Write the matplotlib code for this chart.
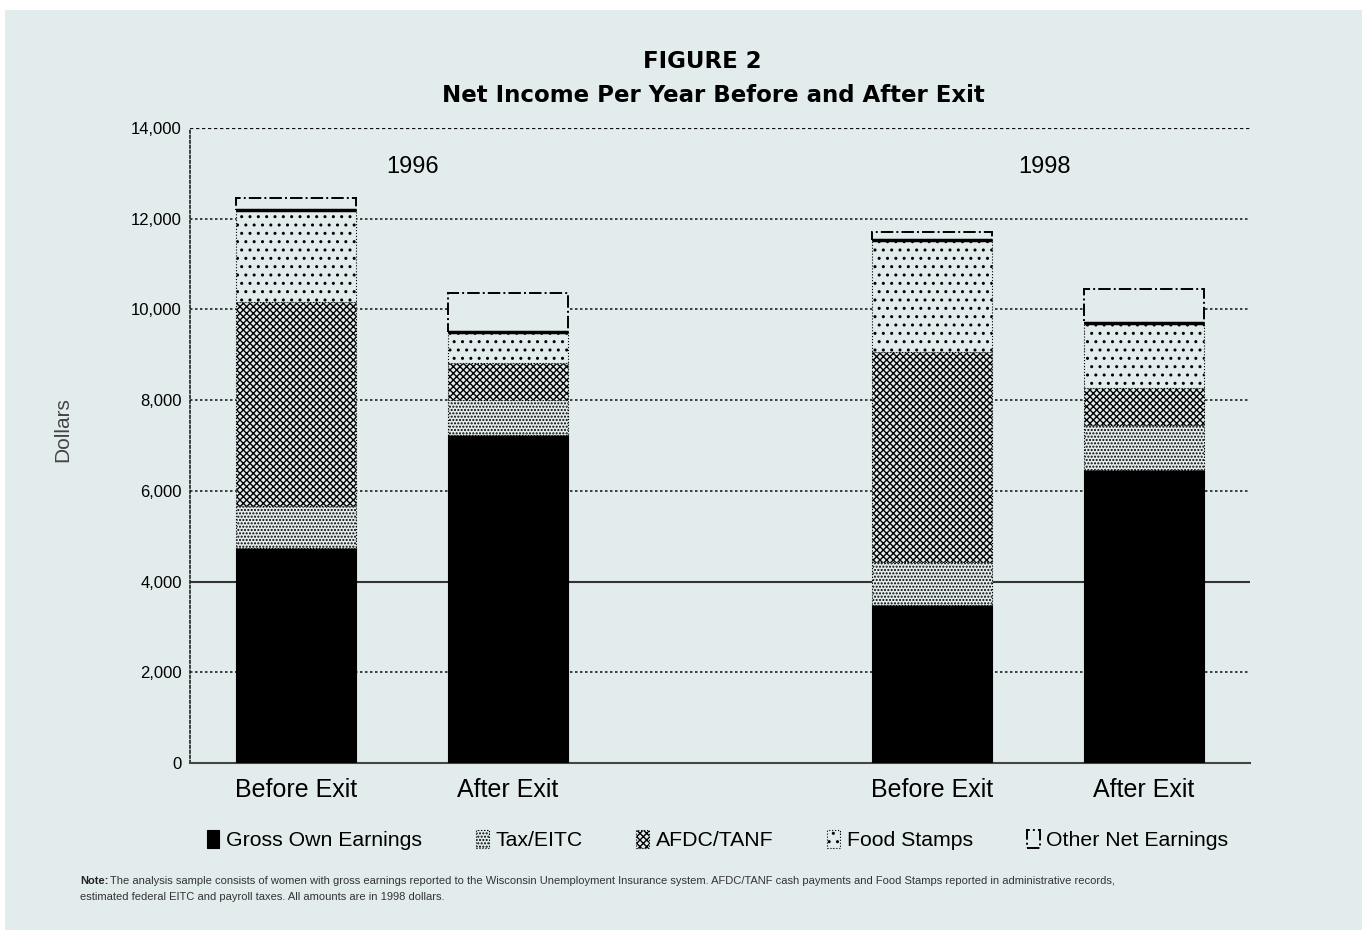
import numpy as np
import matplotlib.pyplot as plt
from matplotlib.patches import Rectangle

# ---- datos ----
anios = ['1996', '1998']
etiquetas = ['Before Exit', 'After Exit', 'Before Exit', 'After Exit']
componentes = ['Gross Own Earnings', 'Tax/EITC', 'AFDC/TANF', 'Food Stamps', 'Other Net Earnings']

gross = [4740, 7230, 3480, 6460]
tax = [920, 775, 950, 990]
afdc = [4500, 815, 4630, 820]
food = [2030, 685, 2470, 1430]
other = [265, 860, 180, 750]

FONDO = '#e3ecec'
plt.rcParams['font.family'] = ['Liberation Sans', 'DejaVu Sans']
plt.rcParams['hatch.color'] = 'black'
plt.rcParams['hatch.linewidth'] = 1.0

fig = plt.figure(figsize=(13.69, 9.35), dpi=100, facecolor='white')
fig.patches.append(Rectangle((5 / 1369, 5 / 935), 1357 / 1369, 920 / 935,
                             transform=fig.transFigure, fc=FONDO, ec='none', zorder=-5))
ax = fig.add_axes([190 / 1369, 1 - 763 / 935, 1060 / 1369, 635 / 935])
ax.set_facecolor(FONDO)

pos = np.array([0, 1, 3, 4])
ancho = 0.57

# rejilla
for v in [2000, 6000, 8000, 10000, 12000]:
    ax.axhline(v, color='#222222', lw=1.2, ls=(0, (1.5, 1.5)), zorder=1)
ax.axhline(14000, color='#111111', lw=1.6, ls=(0, (1.5, 1.2)), zorder=1)
ax.axhline(4000, color='#333333', lw=1.5, zorder=1)

base = np.zeros(4)
estilos = [
    dict(color='black', edgecolor='black', hatch=None, lw=0.8, ls='-'),
    dict(color=FONDO, edgecolor='black', hatch='.....', lw=0.8, ls=':'),
    dict(color=FONDO, edgecolor='black', hatch='xxxxx', lw=0.8, ls=':'),
    dict(color=FONDO, edgecolor='black', hatch='..', lw=0.8, ls=':'),
    dict(color=FONDO, edgecolor='black', hatch=None, lw=1.4, ls='-.'),
]
barras = []
for nombre, vals, st in zip(componentes, [gross, tax, afdc, food, other], estilos):
    b = ax.bar(pos, vals, ancho, bottom=base, color=st['color'], edgecolor=st['edgecolor'],
               hatch=st['hatch'], linewidth=st['lw'], linestyle=st['ls'], label=nombre, zorder=3)
    barras.append(b)
    base = base + np.array(vals)
    if nombre == 'Food Stamps':
        ax.hlines(base, pos - ancho / 2, pos + ancho / 2, color='black', lw=2.5, zorder=4)

ax.set_xlim(-0.5, 4.5)
ax.set_ylim(0, 14000)
ax.set_yticks(np.arange(0, 14001, 2000))
ax.set_yticklabels([f'{v:,}' for v in range(0, 14001, 2000)], fontsize=12)
ax.set_xticks(pos)
ax.set_xticklabels(etiquetas, fontsize=18)
ax.tick_params(axis='x', length=0, pad=11)
ax.tick_params(axis='y', length=0, pad=6)

ax.spines['right'].set_visible(False)
ax.spines['top'].set_visible(False)
ax.spines['left'].set_linestyle((0, (1.5, 1.5)))
ax.spines['left'].set_color('#222222')
ax.spines['left'].set_linewidth(1.2)
ax.spines['bottom'].set_color('#444444')
ax.spines['bottom'].set_linewidth(1.5)

# años
ax.text(0.55, 13150, anios[0], fontsize=17, ha='center', va='center')
ax.text(3.53, 13150, anios[1], fontsize=17, ha='center', va='center')

# títulos
fig.text(0.513, 1 - 62 / 935, 'FIGURE 2', fontsize=16.5, fontweight='bold', ha='center',
         va='center', family='DejaVu Sans')
fig.text(0.521, 1 - 95 / 935, 'Net Income Per Year Before and After Exit', fontsize=16.5,
         fontweight='bold', ha='center', va='center', family='DejaVu Sans')
fig.text(63 / 1369, 1 - 430 / 935, 'Dollars', fontsize=15, color='#444444', rotation=90,
         ha='center', va='center')

# leyenda
fig.legend(handles=barras, loc='center', bbox_to_anchor=(0.524, 1 - 840 / 935), ncol=5,
           frameon=False, fontsize=15.3, handlelength=0.6, handleheight=0.9,
           handletextpad=0.3, columnspacing=2.55)

# nota
fig.text(80 / 1369, 1 - 881 / 935, 'Note:', fontsize=8, fontweight='bold',
         ha='left', va='center', color='#222222')
fig.text(110 / 1369, 1 - 881 / 935,
         'The analysis sample consists of women with gross earnings reported to the Wisconsin Unemployment '
         'Insurance system. AFDC/TANF cash payments and Food Stamps reported in administrative records,',
         fontsize=8, ha='left', va='center', color='#333333')
fig.text(80 / 1369, 1 - 897 / 935,
         'estimated federal EITC and payroll taxes. All amounts are in 1998 dollars.',
         fontsize=8, ha='left', va='center', color='#333333')

fig.savefig('out.png', dpi=100, facecolor='white')
